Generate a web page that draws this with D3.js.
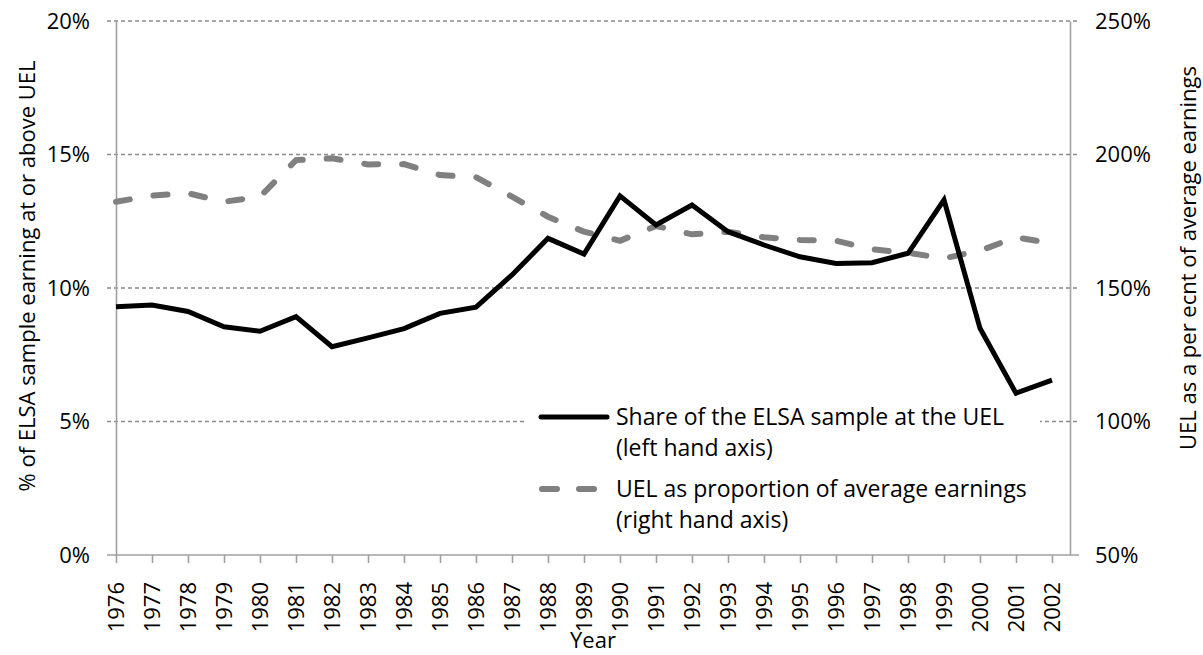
<!DOCTYPE html>
<html>
<head>
<meta charset="utf-8">
<script src="https://cdnjs.cloudflare.com/ajax/libs/d3/7.8.5/d3.min.js"></script>
<style>
  body { margin: 0; background: #fff; }
  text { font-family: "Open Sans", "Noto Sans", sans-serif; fill: #000; }
</style>
</head>
<body>
<div id="chart"></div>
<script>
// data
var years = [1976, 1977, 1978, 1979, 1980, 1981, 1982, 1983, 1984, 1985, 1986, 1987, 1988, 1989,
  1990, 1991, 1992, 1993, 1994, 1995, 1996, 1997, 1998, 1999, 2000, 2001, 2002];

// share of the ELSA sample at the UEL (%), left axis
var shareAtUel = [9.30, 9.36, 9.12, 8.55, 8.38, 8.93, 7.80, 8.13, 8.48, 9.05, 9.28, 10.49, 11.86, 11.27,
  13.45, 12.36, 13.11, 12.11, 11.61, 11.17, 10.92, 10.95, 11.30, 13.30, 8.49, 6.06, 6.55];

// UEL as proportion of average earnings (%), right axis
var uelRatio = [182.3, 184.6, 185.5, 182.3, 184.2, 197.9, 198.6, 196.3, 196.4, 192.3, 191.5, 184.2, 176.7, 171.1,
  167.7, 173.2, 170.1, 171.1, 169.0, 168.0, 167.7, 164.5, 163.2, 161.1, 164.0, 169.0, 166.7];

var leftTicks = [0, 5, 10, 15, 20];
var rightTicks = [50, 100, 150, 200, 250];

var legendLabels = [
  ["Share of the ELSA sample at the UEL", "(left hand axis)"],
  ["UEL as proportion of average earnings", "(right hand axis)"]
];

var svgWidth = 1203;
var svgHeight = 655;

var margin = { top: 21, right: 133, bottom: 100, left: 116 };

var width = svgWidth - margin.left - margin.right;
var height = svgHeight - margin.top - margin.bottom;

var svg = d3.select("#chart")
  .append("svg")
  .attr("width", svgWidth)
  .attr("height", svgHeight);

var chartGroup = svg.append("g")
  .attr("transform", `translate(${margin.left}, ${margin.top})`);

// scales
var xScale = d3.scalePoint()
  .domain(years)
  .range([0, width - 18]);

var yLeft = d3.scaleLinear().domain([0, 20]).range([height, 0]);
var yRight = d3.scaleLinear().domain([50, 250]).range([height, 0]);

// gridlines
chartGroup.append("g")
  .selectAll("line")
  .data(leftTicks.slice(1))
  .enter()
  .append("line")
  .attr("x1", -9)
  .attr("x2", width + 9)
  .attr("y1", d => yLeft(d))
  .attr("y2", d => yLeft(d))
  .attr("stroke", "#8c8c8c")
  .attr("stroke-width", 1.3)
  .attr("stroke-dasharray", "4,3");

// legend background hides the grid behind it
chartGroup.append("rect")
  .attr("x", 527 - margin.left)
  .attr("y", 400 - margin.top)
  .attr("width", 1040 - 527)
  .attr("height", 140)
  .attr("fill", "#fff");

// axes
var xAxis = d3.axisBottom(xScale).tickSize(8).tickSizeOuter(0);
var leftAxis = d3.axisLeft(yLeft).tickValues(leftTicks).tickSize(9).tickSizeOuter(0).tickFormat(d => d + "%");
var rightAxis = d3.axisRight(yRight).tickValues(rightTicks).tickSize(9).tickSizeOuter(0).tickFormat(d => d + "%");

var gx = chartGroup.append("g")
  .attr("transform", `translate(0, ${height})`)
  .call(xAxis);

gx.selectAll(".tick text")
  .attr("transform", "rotate(-90)")
  .attr("x", -27)
  .attr("y", 0)
  .attr("dy", "0.35em")
  .style("text-anchor", "end");

var gl = chartGroup.append("g").call(leftAxis);
var gr = chartGroup.append("g")
  .attr("transform", `translate(${width}, 0)`)
  .call(rightAxis);

gl.selectAll(".tick line").attr("stroke", "none");
gr.selectAll(".tick line").attr("stroke", "none");
gl.selectAll(".tick text").attr("x", -26);
gr.selectAll(".tick text").attr("x", 25);

// x axis domain needs to stick out on both sides
gx.select(".domain").remove();
gx.append("line")
  .attr("x1", -9).attr("x2", width + 9)
  .attr("stroke", "#a0a0a0").attr("stroke-width", 1.6);

[gx, gl, gr].forEach(function(g) {
  g.selectAll(".domain").attr("stroke", "#a0a0a0").attr("stroke-width", 1.6);
  g.selectAll(".tick line").filter(function() { return d3.select(this).attr("stroke") !== "none"; })
    .attr("stroke", "#a0a0a0").attr("stroke-width", 1.6);
  g.selectAll(".tick text").attr("font-size", "22px").attr("fill", "#000")
    .attr("font-family", "'Open Sans', sans-serif");
});

// lines
var leftLine = d3.line()
  .x((d, i) => xScale(years[i]))
  .y(d => yLeft(d));

var rightLine = d3.line()
  .x((d, i) => xScale(years[i]))
  .y(d => yRight(d));

chartGroup.append("path")
  .datum(uelRatio)
  .attr("d", rightLine)
  .attr("fill", "none")
  .attr("stroke", "#808080")
  .attr("stroke-width", 6)
  .attr("stroke-linecap", "round")
  .attr("stroke-dasharray", "14,24");

chartGroup.append("path")
  .datum(shareAtUel)
  .attr("d", leftLine)
  .attr("fill", "none")
  .attr("stroke", "#000")
  .attr("stroke-width", 5)
  .attr("stroke-linejoin", "miter");

// legend
var legend = svg.append("g");

legend.append("line")
  .attr("x1", 541).attr("x2", 607)
  .attr("y1", 417).attr("y2", 417)
  .attr("stroke", "#000").attr("stroke-width", 5).attr("stroke-linecap", "round");

legend.append("line")
  .attr("x1", 542).attr("x2", 600)
  .attr("y1", 489).attr("y2", 489)
  .attr("stroke", "#808080").attr("stroke-width", 6)
  .attr("stroke-linecap", "round").attr("stroke-dasharray", "15,22");

var legendY = [[417, 448], [489, 520]];
legendLabels.forEach(function(lines, i) {
  lines.forEach(function(t, j) {
    legend.append("text")
      .attr("x", 616)
      .attr("y", legendY[i][j])
      .attr("dy", "0.35em")
      .attr("font-size", "23px")
      .text(t);
  });
});

// axis titles
svg.append("text")
  .attr("transform", "translate(35, 276) rotate(-90)")
  .attr("text-anchor", "middle")
  .attr("font-size", "22px")
  .text("% of ELSA sample earning at or above UEL");

svg.append("text")
  .attr("transform", "translate(1196, 258) rotate(-90)")
  .attr("text-anchor", "middle")
  .attr("font-size", "22px")
  .text("UEL as a per ecnt of average earnings");

svg.append("text")
  .attr("x", margin.left + width / 2)
  .attr("y", 648)
  .attr("text-anchor", "middle")
  .attr("font-size", "22px")
  .text("Year");
</script>
</body>
</html>
